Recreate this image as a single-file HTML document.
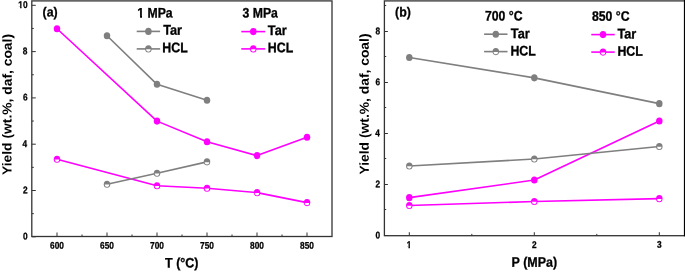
<!DOCTYPE html>
<html><head><meta charset="utf-8"><style>
html,body{margin:0;padding:0;background:#fff;width:685px;height:273px;overflow:hidden}
svg{display:block;position:absolute;left:0;top:0}
.t{filter:grayscale(1)}
text{font-family:"Liberation Sans",sans-serif;font-weight:bold;fill:#000;stroke:#000;stroke-width:0.3px}
text.ns{stroke-width:0}
</style></head><body>
<svg width="685" height="273" viewBox="0 0 685 273">
<polyline points="57.00,28.75 157.00,121.12 207.00,141.72 257.00,155.61 307.00,137.32" fill="none" stroke="#ff00ff" stroke-width="1.6" stroke-linejoin="round"/>
<ellipse cx="57.00" cy="28.75" rx="3.25" ry="3.55" fill="#ff00ff"/>
<ellipse cx="157.00" cy="121.12" rx="3.25" ry="3.55" fill="#ff00ff"/>
<ellipse cx="207.00" cy="141.72" rx="3.25" ry="3.55" fill="#ff00ff"/>
<ellipse cx="257.00" cy="155.61" rx="3.25" ry="3.55" fill="#ff00ff"/>
<ellipse cx="307.00" cy="137.32" rx="3.25" ry="3.55" fill="#ff00ff"/>
<polyline points="57.00,159.32 157.00,185.71 207.00,188.25 257.00,192.65 307.00,202.61" fill="none" stroke="#ff00ff" stroke-width="1.6" stroke-linejoin="round"/>
<ellipse cx="57.00" cy="159.32" rx="3.25" ry="3.55" fill="#ff00ff"/><path d="M54.70,159.62 A2.3,2.45 0 0 0 59.30,159.62 Z" fill="#fff"/>
<ellipse cx="157.00" cy="185.71" rx="3.25" ry="3.55" fill="#ff00ff"/><path d="M154.70,186.01 A2.3,2.45 0 0 0 159.30,186.01 Z" fill="#fff"/>
<ellipse cx="207.00" cy="188.25" rx="3.25" ry="3.55" fill="#ff00ff"/><path d="M204.70,188.55 A2.3,2.45 0 0 0 209.30,188.55 Z" fill="#fff"/>
<ellipse cx="257.00" cy="192.65" rx="3.25" ry="3.55" fill="#ff00ff"/><path d="M254.70,192.95 A2.3,2.45 0 0 0 259.30,192.95 Z" fill="#fff"/>
<ellipse cx="307.00" cy="202.61" rx="3.25" ry="3.55" fill="#ff00ff"/><path d="M304.70,202.91 A2.3,2.45 0 0 0 309.30,202.91 Z" fill="#fff"/>
<polyline points="107.00,35.70 157.00,84.31 207.00,100.28" fill="none" stroke="#7f7f7f" stroke-width="1.6" stroke-linejoin="round"/>
<ellipse cx="107.00" cy="35.70" rx="3.25" ry="3.55" fill="#7f7f7f"/>
<ellipse cx="157.00" cy="84.31" rx="3.25" ry="3.55" fill="#7f7f7f"/>
<ellipse cx="207.00" cy="100.28" rx="3.25" ry="3.55" fill="#7f7f7f"/>
<polyline points="107.00,184.32 157.00,173.21 207.00,161.86" fill="none" stroke="#7f7f7f" stroke-width="1.6" stroke-linejoin="round"/>
<ellipse cx="107.00" cy="184.32" rx="3.25" ry="3.55" fill="#7f7f7f"/><path d="M104.70,184.62 A2.3,2.45 0 0 0 109.30,184.62 Z" fill="#fff"/>
<ellipse cx="157.00" cy="173.21" rx="3.25" ry="3.55" fill="#7f7f7f"/><path d="M154.70,173.51 A2.3,2.45 0 0 0 159.30,173.51 Z" fill="#fff"/>
<ellipse cx="207.00" cy="161.86" rx="3.25" ry="3.55" fill="#7f7f7f"/><path d="M204.70,162.16 A2.3,2.45 0 0 0 209.30,162.16 Z" fill="#fff"/>
<line x1="31.8" y1="236.80" x2="35.8" y2="236.80" stroke="#333333" stroke-width="1"/>
<line x1="31.8" y1="190.50" x2="35.8" y2="190.50" stroke="#333333" stroke-width="1"/>
<line x1="31.8" y1="144.20" x2="35.8" y2="144.20" stroke="#333333" stroke-width="1"/>
<line x1="31.8" y1="97.90" x2="35.8" y2="97.90" stroke="#333333" stroke-width="1"/>
<line x1="31.8" y1="51.60" x2="35.8" y2="51.60" stroke="#333333" stroke-width="1"/>
<line x1="31.8" y1="5.30" x2="35.8" y2="5.30" stroke="#333333" stroke-width="1"/>
<line x1="31.8" y1="213.65" x2="33.8" y2="213.65" stroke="#333333" stroke-width="1"/>
<line x1="31.8" y1="167.35" x2="33.8" y2="167.35" stroke="#333333" stroke-width="1"/>
<line x1="31.8" y1="121.05" x2="33.8" y2="121.05" stroke="#333333" stroke-width="1"/>
<line x1="31.8" y1="74.75" x2="33.8" y2="74.75" stroke="#333333" stroke-width="1"/>
<line x1="31.8" y1="28.45" x2="33.8" y2="28.45" stroke="#333333" stroke-width="1"/>
<line x1="57.00" y1="236.5" x2="57.00" y2="232.5" stroke="#333333" stroke-width="1"/>
<line x1="107.00" y1="236.5" x2="107.00" y2="232.5" stroke="#333333" stroke-width="1"/>
<line x1="157.00" y1="236.5" x2="157.00" y2="232.5" stroke="#333333" stroke-width="1"/>
<line x1="207.00" y1="236.5" x2="207.00" y2="232.5" stroke="#333333" stroke-width="1"/>
<line x1="257.00" y1="236.5" x2="257.00" y2="232.5" stroke="#333333" stroke-width="1"/>
<line x1="307.00" y1="236.5" x2="307.00" y2="232.5" stroke="#333333" stroke-width="1"/>
<line x1="82.00" y1="236.5" x2="82.00" y2="234.5" stroke="#333333" stroke-width="1"/>
<line x1="132.00" y1="236.5" x2="132.00" y2="234.5" stroke="#333333" stroke-width="1"/>
<line x1="182.00" y1="236.5" x2="182.00" y2="234.5" stroke="#333333" stroke-width="1"/>
<line x1="232.00" y1="236.5" x2="232.00" y2="234.5" stroke="#333333" stroke-width="1"/>
<line x1="282.00" y1="236.5" x2="282.00" y2="234.5" stroke="#333333" stroke-width="1"/>
<rect x="31.8" y="0.9" width="300.2" height="235.6" fill="none" stroke="#333333" stroke-width="1.3"/>
<polyline points="409.30,197.64 534.30,180.02 659.30,121.02" fill="none" stroke="#ff00ff" stroke-width="1.6" stroke-linejoin="round"/>
<ellipse cx="409.30" cy="197.64" rx="3.25" ry="3.55" fill="#ff00ff"/>
<ellipse cx="534.30" cy="180.02" rx="3.25" ry="3.55" fill="#ff00ff"/>
<ellipse cx="659.30" cy="121.02" rx="3.25" ry="3.55" fill="#ff00ff"/>
<polyline points="409.30,205.56 534.30,201.47 659.30,198.66" fill="none" stroke="#ff00ff" stroke-width="1.6" stroke-linejoin="round"/>
<ellipse cx="409.30" cy="205.56" rx="3.25" ry="3.55" fill="#ff00ff"/><path d="M407.00,205.86 A2.3,2.45 0 0 0 411.60,205.86 Z" fill="#fff"/>
<ellipse cx="534.30" cy="201.47" rx="3.25" ry="3.55" fill="#ff00ff"/><path d="M532.00,201.77 A2.3,2.45 0 0 0 536.60,201.77 Z" fill="#fff"/>
<ellipse cx="659.30" cy="198.66" rx="3.25" ry="3.55" fill="#ff00ff"/><path d="M657.00,198.96 A2.3,2.45 0 0 0 661.60,198.96 Z" fill="#fff"/>
<polyline points="409.30,57.43 534.30,77.86 659.30,103.65" fill="none" stroke="#7f7f7f" stroke-width="1.6" stroke-linejoin="round"/>
<ellipse cx="409.30" cy="57.43" rx="3.25" ry="3.55" fill="#7f7f7f"/>
<ellipse cx="534.30" cy="77.86" rx="3.25" ry="3.55" fill="#7f7f7f"/>
<ellipse cx="659.30" cy="103.65" rx="3.25" ry="3.55" fill="#7f7f7f"/>
<polyline points="409.30,165.97 534.30,159.07 659.30,146.56" fill="none" stroke="#7f7f7f" stroke-width="1.6" stroke-linejoin="round"/>
<ellipse cx="409.30" cy="165.97" rx="3.25" ry="3.55" fill="#7f7f7f"/><path d="M407.00,166.27 A2.3,2.45 0 0 0 411.60,166.27 Z" fill="#fff"/>
<ellipse cx="534.30" cy="159.07" rx="3.25" ry="3.55" fill="#7f7f7f"/><path d="M532.00,159.37 A2.3,2.45 0 0 0 536.60,159.37 Z" fill="#fff"/>
<ellipse cx="659.30" cy="146.56" rx="3.25" ry="3.55" fill="#7f7f7f"/><path d="M657.00,146.86 A2.3,2.45 0 0 0 661.60,146.86 Z" fill="#fff"/>
<line x1="384.4" y1="235.50" x2="387.9" y2="235.50" stroke="#333333" stroke-width="1"/>
<line x1="384.4" y1="184.50" x2="387.9" y2="184.50" stroke="#333333" stroke-width="1"/>
<line x1="384.4" y1="133.50" x2="387.9" y2="133.50" stroke="#333333" stroke-width="1"/>
<line x1="384.4" y1="82.50" x2="387.9" y2="82.50" stroke="#333333" stroke-width="1"/>
<line x1="384.4" y1="31.50" x2="387.9" y2="31.50" stroke="#333333" stroke-width="1"/>
<line x1="384.4" y1="209.50" x2="386.2" y2="209.50" stroke="#333333" stroke-width="1"/>
<line x1="384.4" y1="158.50" x2="386.2" y2="158.50" stroke="#333333" stroke-width="1"/>
<line x1="384.4" y1="107.50" x2="386.2" y2="107.50" stroke="#333333" stroke-width="1"/>
<line x1="384.4" y1="56.50" x2="386.2" y2="56.50" stroke="#333333" stroke-width="1"/>
<line x1="384.4" y1="5.50" x2="386.2" y2="5.50" stroke="#333333" stroke-width="1"/>
<line x1="409.30" y1="235.7" x2="409.30" y2="232.2" stroke="#333333" stroke-width="1"/>
<line x1="534.30" y1="235.7" x2="534.30" y2="232.2" stroke="#333333" stroke-width="1"/>
<line x1="659.30" y1="235.7" x2="659.30" y2="232.2" stroke="#333333" stroke-width="1"/>
<line x1="471.80" y1="235.7" x2="471.80" y2="233.89999999999998" stroke="#333333" stroke-width="1"/>
<line x1="596.80" y1="235.7" x2="596.80" y2="233.89999999999998" stroke="#333333" stroke-width="1"/>
<rect x="384.4" y="0.9" width="305.6" height="234.79999999999998" fill="none" stroke="#333333" stroke-width="1.3"/>
<line x1="684.55" y1="0" x2="684.55" y2="236.29999999999998" stroke="#000" stroke-width="1.3"/>
<line x1="136.7" y1="31.4" x2="160.1" y2="31.4" stroke="#7f7f7f" stroke-width="1.6"/><ellipse cx="148.40" cy="31.40" rx="3.25" ry="3.55" fill="#7f7f7f"/>
<line x1="136.7" y1="48.9" x2="160.1" y2="48.9" stroke="#7f7f7f" stroke-width="1.6"/><ellipse cx="148.40" cy="48.90" rx="3.25" ry="3.55" fill="#7f7f7f"/><path d="M146.10,49.20 A2.3,2.45 0 0 0 150.70,49.20 Z" fill="#fff"/>
<line x1="241.3" y1="31.6" x2="265.2" y2="31.6" stroke="#ff00ff" stroke-width="1.6"/><ellipse cx="253.25" cy="31.60" rx="3.25" ry="3.55" fill="#ff00ff"/>
<line x1="241.3" y1="48.9" x2="265.2" y2="48.9" stroke="#ff00ff" stroke-width="1.6"/><ellipse cx="253.25" cy="48.90" rx="3.25" ry="3.55" fill="#ff00ff"/><path d="M250.95,49.20 A2.3,2.45 0 0 0 255.55,49.20 Z" fill="#fff"/>
<line x1="484.1" y1="34.2" x2="507.5" y2="34.2" stroke="#7f7f7f" stroke-width="1.6"/><ellipse cx="495.80" cy="34.20" rx="3.25" ry="3.55" fill="#7f7f7f"/>
<line x1="484.1" y1="51.6" x2="507.5" y2="51.6" stroke="#7f7f7f" stroke-width="1.6"/><ellipse cx="495.80" cy="51.60" rx="3.25" ry="3.55" fill="#7f7f7f"/><path d="M493.50,51.90 A2.3,2.45 0 0 0 498.10,51.90 Z" fill="#fff"/>
<line x1="591.3" y1="34.6" x2="614.7" y2="34.6" stroke="#ff00ff" stroke-width="1.6"/><ellipse cx="603.00" cy="34.60" rx="3.25" ry="3.55" fill="#ff00ff"/>
<line x1="591.3" y1="52.1" x2="614.7" y2="52.1" stroke="#ff00ff" stroke-width="1.6"/><ellipse cx="603.00" cy="52.10" rx="3.25" ry="3.55" fill="#ff00ff"/><path d="M600.70,52.40 A2.3,2.45 0 0 0 605.30,52.40 Z" fill="#fff"/>
</svg>
<svg class="t" width="685" height="273" viewBox="0 0 685 273">
<g transform="translate(25.2,239.5) rotate(0.1) scale(0.83,0.97)"><text font-size="10" text-anchor="middle">0</text></g>
<g transform="translate(25.2,193.25) rotate(0.1) scale(0.83,0.97)"><text font-size="10" text-anchor="middle">2</text></g>
<g transform="translate(24.7,146.88) rotate(0.1) scale(0.83,0.97)"><text font-size="10" text-anchor="middle">4</text></g>
<g transform="translate(25.2,100.5) rotate(0.1) scale(0.83,0.97)"><text font-size="10" text-anchor="middle">6</text></g>
<g transform="translate(24.95,54.25) rotate(0.1) scale(0.83,0.97)"><text font-size="10" text-anchor="middle">8</text></g>
<g transform="translate(22.95,8.0) rotate(0.1) scale(0.83,0.97)"><text font-size="10" text-anchor="middle">10</text><rect x="-6.11" y="-1.25" width="2.70" height="2.38" fill="#fff"/><rect x="-1.67" y="-1.25" width="2.58" height="2.38" fill="#fff"/></g>
<g transform="translate(57.0,248.75) rotate(0.1) scale(0.83,0.97)"><text font-size="10" text-anchor="middle">600</text></g>
<g transform="translate(107.0,248.75) rotate(0.1) scale(0.83,0.97)"><text font-size="10" text-anchor="middle">650</text></g>
<g transform="translate(157.0,248.75) rotate(0.1) scale(0.83,0.97)"><text font-size="10" text-anchor="middle">700</text></g>
<g transform="translate(207.0,248.75) rotate(0.1) scale(0.83,0.97)"><text font-size="10" text-anchor="middle">750</text></g>
<g transform="translate(257.0,248.75) rotate(0.1) scale(0.83,0.97)"><text font-size="10" text-anchor="middle">800</text></g>
<g transform="translate(307.0,248.75) rotate(0.1) scale(0.83,0.97)"><text font-size="10" text-anchor="middle">850</text></g>
<g transform="translate(377.9,238.5) rotate(0.1) scale(0.83,0.97)"><text font-size="10" text-anchor="middle">0</text></g>
<g transform="translate(377.9,187.35) rotate(0.1) scale(0.83,0.97)"><text font-size="10" text-anchor="middle">2</text></g>
<g transform="translate(377.65,136.32) rotate(0.1) scale(0.83,0.97)"><text font-size="10" text-anchor="middle">4</text></g>
<g transform="translate(377.9,85.3) rotate(0.1) scale(0.83,0.97)"><text font-size="10" text-anchor="middle">6</text></g>
<g transform="translate(377.9,34.15) rotate(0.1) scale(0.83,0.97)"><text font-size="10" text-anchor="middle">8</text></g>
<g transform="translate(409.0,247.88) rotate(0.1) scale(0.83,0.97)"><text font-size="10" text-anchor="middle">1</text><rect x="-3.33" y="-1.25" width="2.70" height="2.38" fill="#fff"/><rect x="1.11" y="-1.25" width="2.58" height="2.38" fill="#fff"/></g>
<g transform="translate(534.37,247.88) rotate(0.1) scale(0.83,0.97)"><text font-size="10" text-anchor="middle">2</text></g>
<g transform="translate(659.37,247.75) rotate(0.1) scale(0.83,0.97)"><text font-size="10" text-anchor="middle">3</text></g>
<g transform="translate(50.12,16.5) rotate(0.1) scale(0.885,0.948)"><text font-size="14" text-anchor="middle">(a)</text></g>
<g transform="translate(403.0,16.5) rotate(0.1) scale(0.885,0.948)"><text font-size="14" text-anchor="middle">(b)</text></g>
<g transform="translate(155.0,17.5) rotate(0.1) scale(0.94,1.06)"><text font-size="13" text-anchor="middle">1 MPa</text><rect x="-19.12" y="-1.54" width="3.22" height="2.65" fill="#fff"/><rect x="-13.80" y="-1.54" width="3.05" height="2.65" fill="#fff"/></g>
<g transform="translate(260.25,17.5) rotate(0.1) scale(0.94,1.06)"><text font-size="13" text-anchor="middle">3 MPa</text></g>
<g transform="translate(503.75,20.5) rotate(0.1) scale(0.94,1.06)"><text font-size="13" text-anchor="middle">700 °C</text></g>
<g transform="translate(610.75,20.75) rotate(0.1) scale(0.94,1.06)"><text font-size="13" text-anchor="middle">850 °C</text></g>
<g transform="translate(172.63,34.63) rotate(0.1) scale(0.98,1.07)"><text font-size="13" text-anchor="middle">Tar</text></g>
<g transform="translate(175.0,52.25) rotate(0.1) scale(0.95,1.07)"><text font-size="13" text-anchor="middle">HCL</text></g>
<g transform="translate(277.25,35.0) rotate(0.1) scale(0.98,1.07)"><text font-size="13" text-anchor="middle">Tar</text></g>
<g transform="translate(280.5,52.25) rotate(0.1) scale(0.95,1.07)"><text font-size="13" text-anchor="middle">HCL</text></g>
<g transform="translate(520.25,38.13) rotate(0.1) scale(0.98,1.07)"><text font-size="13" text-anchor="middle">Tar</text></g>
<g transform="translate(523.13,55.5) rotate(0.1) scale(0.95,1.07)"><text font-size="13" text-anchor="middle">HCL</text></g>
<g transform="translate(626.88,38.38) rotate(0.1) scale(0.98,1.07)"><text font-size="13" text-anchor="middle">Tar</text></g>
<g transform="translate(630.13,55.75) rotate(0.1) scale(0.95,1.07)"><text font-size="13" text-anchor="middle">HCL</text></g>
<g transform="translate(181.75,267.5) rotate(0.1) scale(0.925,1.015)"><text font-size="13.5" text-anchor="middle">T (°C)</text></g>
<g transform="translate(534.38,266.75) rotate(0.1) scale(0.925,1.015)"><text font-size="13.5" text-anchor="middle">P (MPa)</text></g>
<g transform="translate(11.62,104.5) rotate(-89.9) scale(1.026,0.97)"><text class="ns" font-size="13.5" text-anchor="middle">Yield (wt.%, daf, coal)</text></g>
<g transform="translate(368.75,104.0) rotate(-89.9) scale(1.026,0.97)"><text class="ns" font-size="13.5" text-anchor="middle">Yield (wt.%, daf, coal)</text></g>
</svg>
</body></html>
